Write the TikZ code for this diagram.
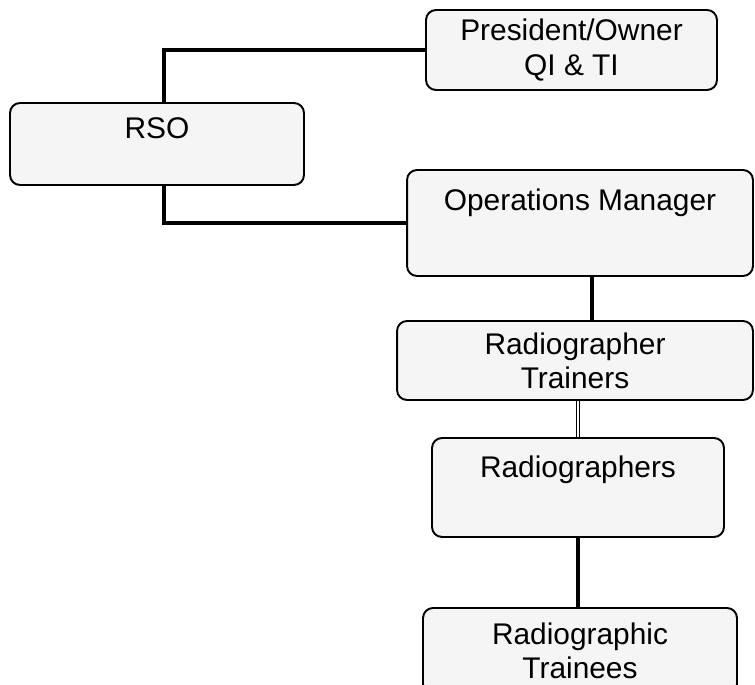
\documentclass[tikz,border=0pt]{standalone}
\usepackage{fontspec}
\setmainfont{Liberation Sans}
\usepackage{tikz}

\tikzset{
  box/.style={draw, rounded corners=0.2cm, line width=1.1pt, fill=black!4,
    align=center, inner sep=0pt, font=\fontsize{17}{19.5}\selectfont},
  wire/.style={line width=2.3pt},
  thinwire/.style={double, line width=0.5pt, double distance=1.2pt},
}

\begin{document}
\begin{tikzpicture}[x=0.02cm,y=-0.02cm]
\useasboundingbox (0,0) rectangle (755,685);
\clip (0,0) rectangle (755,685);

\node[box, minimum width=5.82cm, minimum height=1.6cm] (pres) at (571.5,50) {President/Owner\\QI \& TI};
\node[box, minimum width=5.88cm, text height=0.71cm, text depth=0.93cm] (rso) at (157,144) {RSO};
\node[box, minimum width=6.92cm, text height=0.81cm, text depth=1.31cm] (ops) at (580,223) {Operations Manager};
\node[box, minimum width=7.12cm, minimum height=1.58cm] (train) at (575,360.5) {Radiographer\\Trainers};
\node[box, minimum width=5.84cm, text height=0.79cm, text depth=1.19cm] (rad) at (578,487.5) {Radiographers};
\node[box, minimum width=6.28cm, minimum height=1.72cm] (trainee) at (580,651) {Radiographic\\Trainees};

\coordinate (rn) at ([xshift=0.14cm]rso.north);
\coordinate (rs) at ([xshift=0.14cm]rso.south);
\coordinate (om) at ([xshift=0.24cm]ops.south);

\draw[wire] (rn) |- (pres.west);
\draw[wire] (rs) |- (ops.west);
\draw[wire] (om) -- (om |- train.north);
\draw[thinwire] (rad.north) -- (rad.north |- train.south);
\draw[wire] (rad.south) -- (rad.south |- trainee.north);
\end{tikzpicture}
\end{document}
